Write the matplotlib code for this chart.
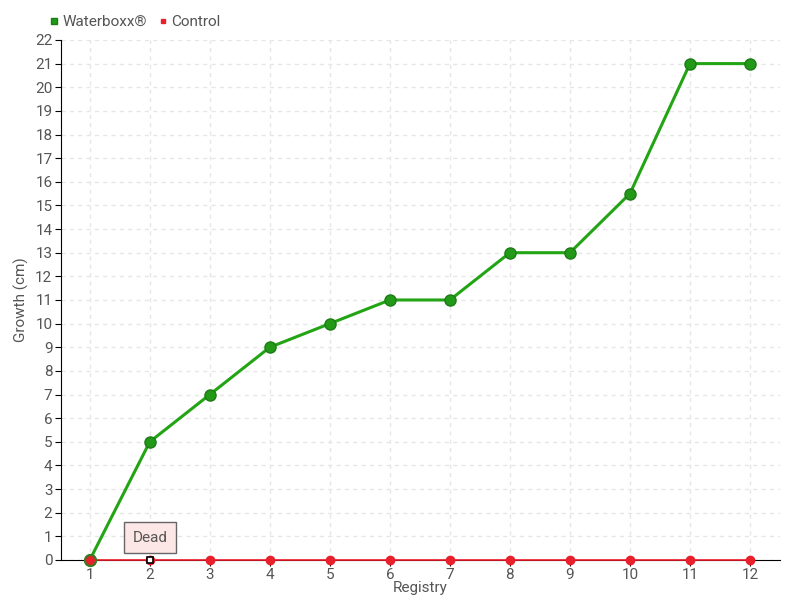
import matplotlib.pyplot as plt
import numpy as np

registry = [1, 2, 3, 4, 5, 6, 7, 8, 9, 10, 11, 12]
waterboxx = [0, 5, 7, 9, 10, 11, 11, 13, 13, 15.5, 21, 21]
control = [0, 0, 0, 0, 0, 0, 0, 0, 0, 0, 0, 0]
dead_idx = 1

plt.rcParams['font.family'] = ['Roboto', 'DejaVu Sans']
text_col = '#555555'

fig = plt.figure(figsize=(8, 6), dpi=100)
ax = fig.add_axes([0.076, 0.0667, 0.899, 0.8667])

ax.plot(registry, waterboxx, color='#22a414', lw=2.2, marker='o', ms=8,
        mfc='#229a18', mec='#1c7c16', zorder=3, label='Waterboxx®', clip_on=False)
ax.plot(registry, control, color='#ee1a2a', lw=1.2, marker='o', ms=6,
        mfc='#e8202c', mec='#e8202c', zorder=4, label='Control', clip_on=False)
ax.plot(registry[0], control[0], 'o', ms=8, mfc='#e8202c', mec='#3a7a20', mew=1.5,
        zorder=5, clip_on=False)
ax.plot(registry[dead_idx], control[dead_idx], 's', ms=5, mfc='white', mec='black',
        mew=1.2, zorder=6, clip_on=False)

ax.annotate('Dead', xy=(registry[dead_idx], control[dead_idx]), xytext=(0, 16),
            textcoords='offset points', ha='center', va='center', fontsize=11, color=text_col,
            bbox=dict(boxstyle='square,pad=0.55', fc='#fde6e6', ec='#666666', lw=1),
            arrowprops=dict(arrowstyle='-', color='#666666', lw=0.8))

ax.set_xlim(0.517, 12.5)
ax.set_ylim(0, 22)
ax.set_xticks(registry)
ax.set_yticks(np.arange(0, 23, 1))
ax.grid(True, ls=(0, (3, 3)), color='#e6e6e6', lw=1)
ax.set_axisbelow(True)
for s in ['top', 'right']:
    ax.spines[s].set_visible(False)
ax.spines['left'].set_color('black')
ax.spines['bottom'].set_color('black')
ax.tick_params(colors='black', labelcolor=text_col, labelsize=11, length=4, pad=2)
ax.set_xlabel('Registry', color=text_col, fontsize=11, labelpad=-1)
ax.set_ylabel('Growth (cm)', color=text_col, fontsize=11, labelpad=4)

leg = ax.legend(loc='lower left', bbox_to_anchor=(-0.03, 1.0), ncol=2, frameon=False,
                handlelength=0.5, handletextpad=0.3, columnspacing=0.8, fontsize=11,
                markerscale=0.6, borderpad=0.2)
for h in leg.legend_handles:
    h.set_linestyle('None')
    h.set_marker('s')
for t in leg.get_texts():
    t.set_color(text_col)

fig.savefig('out.png')
